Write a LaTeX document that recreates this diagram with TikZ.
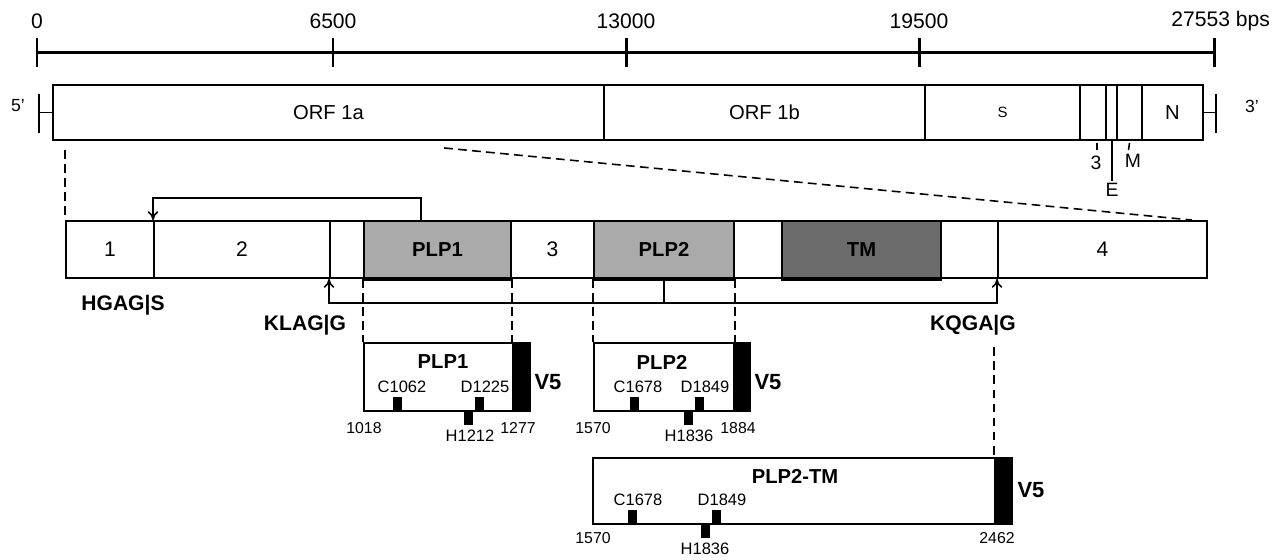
\documentclass[tikz,border=0pt]{standalone}
\usepackage{fontspec}
\setmainfont{Liberation Sans}
\usepackage{xcolor}
\usetikzlibrary{arrows.meta,positioning,calc,fit}
\definecolor{plpgrey}{RGB}{170,170,170}
\definecolor{tmgrey}{RGB}{108,108,108}

\begin{document}
\begin{tikzpicture}[x=0.02cm,y=-0.02cm,>={To[length=5pt,width=6pt]},
 seg/.style={draw,line width=1.1pt,inner sep=0pt},
 plp/.style={seg,fill=plpgrey},
 seglab/.style={inner sep=0pt,font=\fontsize{11.5}{13}\selectfont},
 plplab/.style={inner sep=0pt,font=\fontsize{11.5}{13}\selectfont\bfseries},
 tag/.style={draw,fill=black,line width=1pt,inner sep=0pt},
 box/.style={draw,line width=1.1pt,inner sep=0pt},
 site/.style={fill=black,inner sep=0pt,minimum width=0.18cm,minimum height=0.28cm},
 ruler/.style={line width=1.7pt},
 link/.style={line width=0.9pt},
 guide/.style={line width=0.9pt,dash pattern=on 5pt off 3pt},
 num/.style={inner sep=0pt,font=\fontsize{12}{14}\selectfont},
 cut/.style={inner sep=0pt,font=\fontsize{12}{14}\selectfont\bfseries},
 ttl/.style={inner sep=0pt,font=\fontsize{11.5}{13}\selectfont\bfseries},
 vfive/.style={inner sep=0pt,font=\fontsize{12.5}{14}\selectfont\bfseries},
 res/.style={inner sep=0pt,font=\fontsize{9.4}{11}\selectfont},
 aanum/.style={inner sep=0pt,font=\fontsize{9}{11}\selectfont}]
\useasboundingbox (0,0) rectangle (1281,559);

% scale
\draw[ruler] (37,52) -- (1214,52);
\foreach \x/\t in {37/0,333/6500,626/13000,919/19500}{
  \draw[ruler] (\x,38) -- (\x,67);
  \node[num] (lab\t) at (\x,21) {\t};
}
\draw[ruler] (1214,38) -- (1214,67);
\node[num,anchor=west] (labend) at (1171,21) {27553 bps};

% genome
\node[seg,fit={(53,85) (604,140)},label={[seglab]center:ORF 1a}] (orfa) {};
\node[seg,fit={(604,85) (925,140)},label={[seglab]center:ORF 1b}] (orfb) {};
\node[seg,fit={(925,85) (1080,140)},label={[seglab,font=\fontsize{8.5}{10}\selectfont]center:S}] (sgene) {};
\node[seg,fit={(1080,85) (1106,140)}] (g3) {};
\node[seg,fit={(1106,85) (1117,140)}] (ge) {};
\node[seg,fit={(1117,85) (1142,140)}] (gm) {};
\node[seg,fit={(1142,85) (1203,140)},label={[seglab]center:N}] (gn) {};
\draw[seg] (orfa.west) -- ++(-13,0) coordinate (end5);
\draw[seg] ($(end5)+(0,-19)$) -- ($(end5)+(0,20)$);
\draw[seg] (gn.east) -- ++(12,0) coordinate (end3);
\draw[seg] ($(end3)+(0,-19)$) -- ($(end3)+(0,20)$);
\node[num,font=\fontsize{10}{12}\selectfont] (p5) at (18,106) {5'};
\node[num,font=\fontsize{10}{12}\selectfont] (p3) at (1252,106) {3'};

\draw[link] (1097,143) -- (1097,150);
\draw[link] ($(ge.south)+(0.5,0)$) -- ++(0,40) coordinate (etip);
\draw[link] (1129.5,143) -- (1128.5,150);
\node[num,font=\fontsize{11}{13}\selectfont] (n3) at (1096,163) {3};
\node[num,font=\fontsize{11}{13}\selectfont,below=1pt of etip] (ne) {E};
\node[num,font=\fontsize{11}{13}\selectfont] (nm) at (1133,161) {M};

% ORF 1a domains
\node[seg,fit={(66,221) (154,278)},label={[seglab,font=\fontsize{12}{14}\selectfont]center:1}] (d1) {};
\node[seg,fit={(154,221) (330,278)},label={[seglab,font=\fontsize{12}{14}\selectfont]center:2}] (d2) {};
\node[seg,fit={(330,221) (364,278)}] (dg1) {};
\node[plp,fit={(364,221) (511,278)},label={[plplab]center:PLP1}] (plp1) {};
\node[seg,fit={(511,221) (594,278)},label={[seglab,font=\fontsize{12}{14}\selectfont]center:3}] (d3) {};
\node[plp,fit={(594,221) (734,278)},label={[plplab]center:PLP2}] (plp2) {};
\node[seg,fit={(734,221) (782,278)}] (dg2) {};
\node[plp,fill=tmgrey,fit={(782,221) (941,278)},label={[plplab]center:TM}] (tm) {};
\node[seg,fit={(941,221) (998,278)}] (dg3) {};
\node[seg,fit={(998,221) (1207,278)},label={[seglab,font=\fontsize{12}{14}\selectfont]center:4}] (d4) {};
\draw[line width=1.8pt] (plp1.south west) -- (plp1.south east);
\draw[line width=1.8pt] (plp2.south west) -- (plp2.south east);
\draw[line width=1.8pt] (tm.south west) -- (tm.south east);

\draw[guide] (d1.north west |- orfa.south) ++(0,9) -- (d1.north west);
\draw[guide] ($(orfa.south west)+(392,7)$) -- ($(d4.north east)+(-16,0)$);

\draw[link,->] ($(plp1.north west)+(58,0)$) -- ++(0,-22) -| (d2.north west);
\draw[link,->] (plp2.south) -- ++(0,24) -| (dg1.south west);
\draw[link,->] (plp2.south) ++(0,24) -| (d4.south west);

\node[cut] (hgag) at (123,305) {HGAG|S};
\node[cut] (klag) at (305,325) {KLAG|G};
\node[cut] (kqga) at (973,325) {KQGA|G};

% PLP1
\node[box,fit={(364,343) (513,411)}] (pbox1) {};
\node[tag,fit={(513,343) (530,411)}] (ptag1) {};
\draw[guide] (plp1.south west) -- (plp1.south west |- pbox1.north);
\draw[guide] (plp1.south east) -- (plp1.south east |- pbox1.north);
\node[ttl] (pt1) at (443,362) {PLP1};
\node[vfive] (v51) at (548,382) {V5};
\node[site,anchor=south] (c1062) at (397.5,411) {};
\node[site,anchor=south] (d1225) at (479.5,411) {};
\node[site,anchor=north] (h1212) at (468.5,411) {};
\node[res] (lc1062) at (402,387) {C1062};
\node[res] (ld1225) at (485,387) {D1225};
\node[res] (lh1212) at (470,436) {H1212};
\node[aanum] (s1018) at (364,428) {1018};
\node[aanum] (e1277) at (518,428) {1277};

% PLP2
\node[box,fit={(594,343) (734,411)}] (pbox2) {};
\node[tag,fit={(734,343) (750,411)}] (ptag2) {};
\draw[guide] (plp2.south west) -- (plp2.south west |- pbox2.north);
\draw[guide] (plp2.south east) -- (plp2.south east |- pbox2.north);
\node[ttl] (pt2) at (662,362) {PLP2};
\node[vfive] (v52) at (768,382) {V5};
\node[site,anchor=south] (c1678) at (634.5,411) {};
\node[site,anchor=south] (d1849) at (699.5,411) {};
\node[site,anchor=north] (h1836) at (688.5,411) {};
\node[res] (lc1678) at (638,387) {C1678};
\node[res] (ld1849) at (705,387) {D1849};
\node[res] (lh1836) at (689,436) {H1836};
\node[aanum] (s1570) at (593,428) {1570};
\node[aanum] (e1884) at (738,428) {1884};

% PLP2-TM
\node[box,fit={(593,458) (995,524)}] (pbox3) {};
\node[tag,fit={(995,458) (1012,524)}] (ptag3) {};
\draw[guide] (kqga.south -| ptag3.north west) ++(0,12) -- (ptag3.north west);
\node[ttl] (pt3) at (795,476) {PLP2-TM};
\node[vfive] (v53) at (1031,490) {V5};
\node[site,anchor=south] (c1678b) at (632.5,524) {};
\node[site,anchor=south] (d1849b) at (716.5,524) {};
\node[site,anchor=north] (h1836b) at (705,524) {};
\node[res] (lc1678b) at (638,500) {C1678};
\node[res] (ld1849b) at (722,500) {D1849};
\node[res] (lh1836b) at (705,549) {H1836};
\node[aanum] (s1570b) at (593,538) {1570};
\node[aanum] (e2462) at (997,538) {2462};
\end{tikzpicture}
\end{document}
